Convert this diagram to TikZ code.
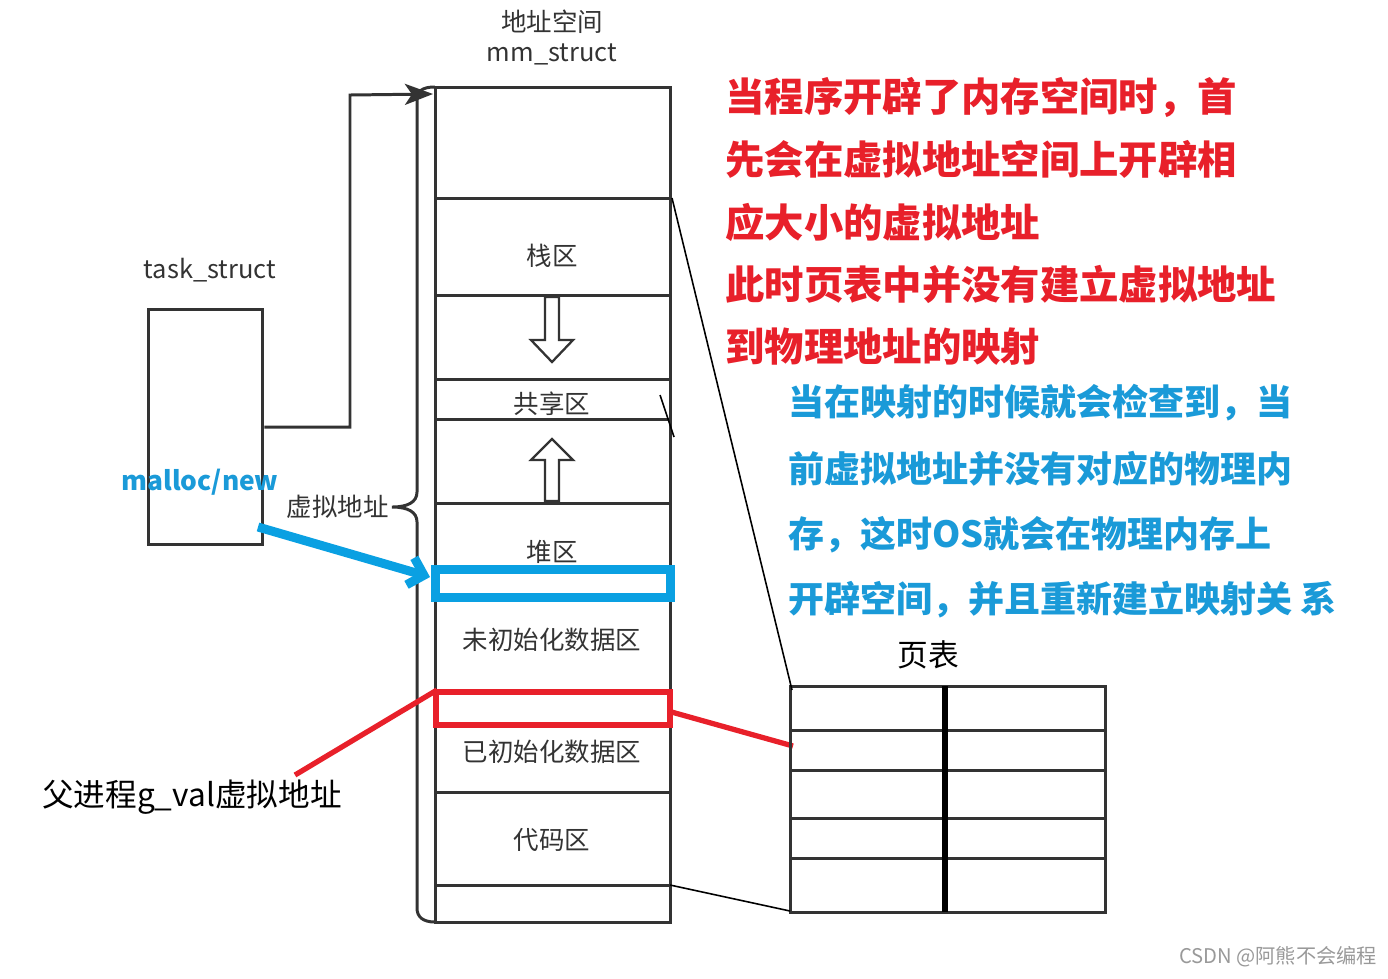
\documentclass[tikz,border=0pt]{standalone}
\usepackage{fontspec}
\setmainfont{Noto Sans CJK SC}
\usetikzlibrary{arrows.meta}

\definecolor{memred}{HTML}{E8202A}
\definecolor{memblue}{HTML}{1A9AD8}
\definecolor{boxblue}{HTML}{0AA0E2}
\definecolor{inkgray}{HTML}{333333}

\tikzset{
  col/.style={draw=inkgray, line width=1.7pt},
  lbl/.style={text=inkgray, inner sep=0pt, font=\fontsize{14.5}{16}\selectfont},
  redtxt/.style={text=memred, inner sep=0pt, anchor=west, font=\fontsize{22.4}{24}\selectfont\bfseries},
  bluetxt/.style={text=memblue, inner sep=0pt, anchor=west, font=\fontsize{20.5}{22}\selectfont\bfseries},
  thinline/.style={black, line width=0.9pt}
}

\begin{document}
\begin{tikzpicture}[x=0.02cm,y=-0.02cm]
\useasboundingbox (0,0) rectangle (1388,978);

% address space column
\draw[col] (435,87) rectangle (670,922);
\foreach \y in {198,295,379,419,503,692,792,885} {
  \draw[col] (435,\y) -- (670,\y);
}

\node[lbl] (title) at (552,22) {地址空间};
\node[lbl] (mm) at (552,54) {mm\_struct};
\node[lbl] (stack) at (552,256) {栈区};
\node[lbl] (share) at (552,404) {共享区};
\node[lbl] (heap) at (552,552) {堆区};
\node[lbl] (bss) at (552,640) {未初始化数据区};
\node[lbl] (data) at (552,752) {已初始化数据区};
\node[lbl] (code) at (552,840) {代码区};

% hollow arrows
\draw[col, line width=1.3pt] (545,297) -- (559,297) -- (559,340) -- (573,340) -- (552,362) -- (531,340) -- (545,340) -- cycle;
\draw[col, line width=1.3pt] (545,501) -- (559,501) -- (559,460) -- (573,460) -- (552,439) -- (531,460) -- (545,460) -- cycle;

% brace
\draw[col] (435,87) .. controls (422,87) and (417,91) .. (417,101) -- (417,492)
  .. controls (417,502) and (408,507) .. (392,507)
  .. controls (408,507) and (417,512) .. (417,522) -- (417,908)
  .. controls (417,917) and (423,922) .. (435,922);
\node[lbl, anchor=east] (vaddr) at (389,507) {虚拟地址};

% task_struct
\node[col, minimum width=2.3cm, minimum height=4.72cm] (task) at (205.5,427) {};
\node[lbl] (tasklbl) at (210,270) {task\_struct};
\coordinate (turn) at (350,95);
\coordinate (mmtop) at (433,94);
\draw[col, -{Stealth[length=16pt,width=12pt,inset=4pt]}] (task.east) -| (turn) -- (mmtop);

% malloc
\node[text=memblue, inner sep=0pt, font=\fontsize{15}{16}\selectfont\bfseries] (malloc) at (200,482) {malloc/new};
\coordinate (mstart) at (258,527);
\coordinate (mend) at (430,577);
\draw[boxblue, line width=5.1pt, -{Straight Barb[length=8pt,width=16pt]}] (mstart) -- (mend);
\draw[boxblue, line width=5.1pt] (435.5,569.5) rectangle (670.5,597.5);

% g_val
\draw[memred, line width=3.4pt] (436,692) rectangle (670,725);
\node[inner sep=0pt, font=\fontsize{18}{20}\selectfont] (gval) at (192,797) {父进程g\_val虚拟地址};
\coordinate (gvtip) at (295,775);
\coordinate (gvbox) at (437,690);
\draw[memred, line width=3pt] (gvtip) -- (gvbox);
\coordinate (boxout) at (668,711);
\coordinate (ptin) at (793,746);
\draw[memred, line width=3pt] (boxout) -- (ptin);

% page table
\draw[col] (790,686) rectangle (1105,912);
\foreach \y in {730,770,818,858} {
  \draw[col] (790,\y) -- (1105,\y);
}
\draw[black, line width=3.4pt] (945,686) -- (945,912);
\node[inner sep=0pt, font=\fontsize{17.5}{19}\selectfont] (ptable) at (928,655) {页表};

\draw[thinline] (672,198) -- (792,690);
\draw[thinline] (670,885) -- (790,911);
\draw[thinline] (660,395) -- (674,437);

% notes
\foreach \t [count=\i] in {当程序开辟了内存空间时，首,先会在虚拟地址空间上开辟相,应大小的虚拟地址,此时页表中并没有建立虚拟地址,到物理地址的映射} {
  \node[redtxt] (red\i) at (725,{97+62.5*(\i-1)}) {\t};
}
\foreach \t [count=\i] in {当在映射的时候就会检查到，当,前虚拟地址并没有对应的物理内,存，这时OS就会在物理内存上,开辟空间，并且重新建立映射关 系} {
  \node[bluetxt] (blue\i) at (788,{403+65.7*(\i-1)}) {\t};
}

\node[text=gray!80, inner sep=0pt, font=\fontsize{11.5}{13}\selectfont] (mark) at (1278,957) {CSDN @阿熊不会编程};

\end{tikzpicture}
\end{document}
